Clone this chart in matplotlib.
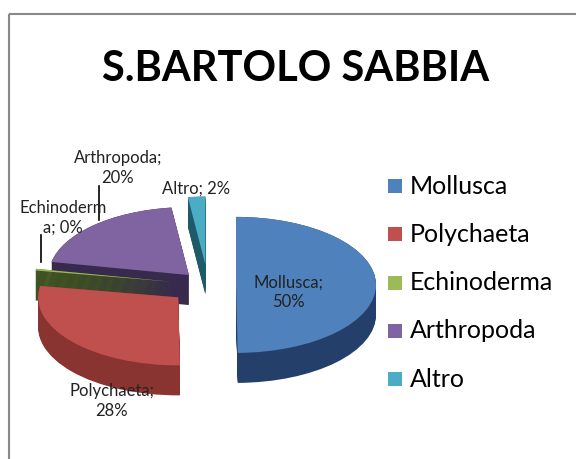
import numpy as np
import matplotlib
matplotlib.use("Agg")
import matplotlib.pyplot as plt
from matplotlib.patches import Wedge, Rectangle

plt.rcParams['font.family'] = ['Lato', 'DejaVu Sans']

# data
categories = ["Mollusca", "Polychaeta", "Echinoderma", "Arthropoda", "Altro"]
values = [50, 28, 0.4, 20, 2]
top_colors = ["#4F81BD", "#C0504D", "#9BBB59", "#8064A2", "#4BACC6"]
side_colors = ["#24406A", "#8A3432", "#3F5221", "#372A4D", "#1F5A68"]
explode = [0.2, 0.28, 0.25, 0.2, 0.3]
labels = ["Mollusca;\n50%", "Polychaeta;\n28%", "Echinoderm\na; 0%", "Arthropoda;\n20%", "Altro; 2%"]

W, H = 576, 459
fig = plt.figure(figsize=(W / 100, H / 100), dpi=100)

# pie axes: 1 unit = rx px horizontally, ry px vertically
cx, cy, rx, ry, depth = 208, 285, 140, 68, 30
pax = fig.add_axes([(cx - 2 * rx) / W, (H - cy - 2 * ry) / H, 4 * rx / W, 4 * ry / H])
pax.set_xlim(-2, 2)
pax.set_ylim(-2, 2)
pax.set_axis_off()

vals = np.array(values, dtype=float)
frac = vals / vals.sum()
ends = np.cumsum(frac)
starts = ends - frac

slices = []
for i in range(len(vals)):
    t1 = 90 - ends[i] * 360
    t2 = 90 - starts[i] * 360
    mid = np.radians((t1 + t2) / 2)
    ox = explode[i] * np.cos(mid)
    oy = explode[i] * np.sin(mid)
    slices.append((oy, i, t1, t2, ox))

# back to front
d = depth / ry
for oy, i, t1, t2, ox in sorted(slices, key=lambda s: -s[0]):
    for k in np.linspace(d, 0, 30):
        pax.add_patch(Wedge((ox, oy - k), 1, t1, t2, facecolor=side_colors[i], lw=0))
    pax.add_patch(Wedge((ox, oy), 1, t1, t2, facecolor=top_colors[i], lw=0))

# overlay in pixel coords for text
ov = fig.add_axes([0, 0, 1, 1])
ov.set_xlim(0, W)
ov.set_ylim(H, 0)
ov.set_axis_off()
ov.patch.set_alpha(0)

ov.add_patch(Rectangle((9, 14), 600, 500, fill=False, edgecolor="#888888", lw=1.5))

ov.text(296, 69, "S.BARTOLO SABBIA", ha="center", va="center", fontsize=30,
        fontweight="bold", color="black")

label_pos = [(288, 292), (112, 401), (63, 218), (118, 168), (196, 189)]
for (x, y), lab in zip(label_pos, labels):
    ov.text(x, y, lab, ha="center", va="center", fontsize=12, linespacing=1.25,
            color="#222222")

# leader lines
ov.plot([99, 99], [186, 220], color="black", lw=1.2)
ov.plot([41, 41], [235, 262], color="black", lw=1.2)

# legend
for j, (name, col) in enumerate(zip(categories, top_colors)):
    y = 186 + j * 48.3
    ov.add_patch(Rectangle((388, y - 7), 14, 14, facecolor=col, lw=0))
    ov.text(410, y, name, ha="left", va="center", fontsize=18, color="black")

fig.savefig("out.png", dpi=100)
